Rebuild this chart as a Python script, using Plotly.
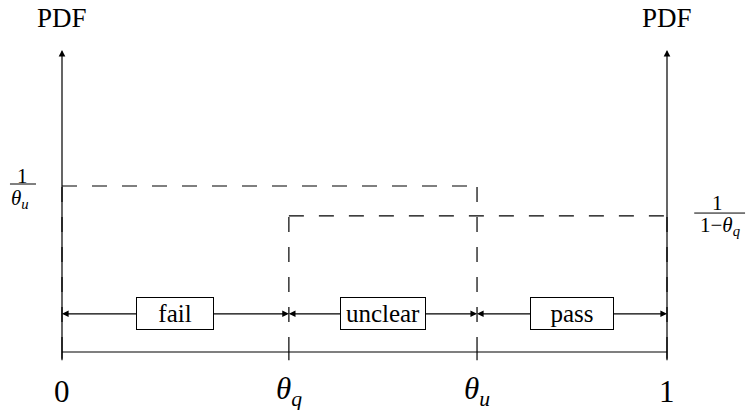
import plotly.graph_objects as go

# region boundaries on the unit interval
theta_q = 0.375
theta_u = 0.686
boundaries = [0.0, theta_q, theta_u, 1.0]
regions = ["fail", "unclear", "pass"]
box_widths = [72, 80, 78]

# schematic PDF heights (not to scale)
level_u = 1.0     # 1/theta_u
level_q = 0.82    # 1/(1-theta_q)
arrow_row = 0.23
axis_top = 1.82
axis_bottom = -0.05

tick_labels = ["0", "<i>θ</i><sub><i>q</i></sub>", "<i>θ</i><sub><i>u</i></sub>", "1"]

FONT = "Liberation Serif, DejaVu Serif, serif"
W, H = 748, 410
PX_X = 605.0   # pixels per x unit
PX_Y = 166.0   # pixels per y unit
X0, Y0 = 62, 352  # pixel position of (0, 0)

fig = go.Figure()

line = dict(color="black", width=1.2)
dashed = dict(color="black", width=1.2, dash="15px,15px")

# baseline
fig.add_trace(go.Scatter(x=[boundaries[0], boundaries[-1]], y=[0, 0], mode="lines", line=line))

# tick marks below baseline
for b in boundaries:
    fig.add_trace(go.Scatter(x=[b, b], y=[0, axis_bottom], mode="lines", line=line))

# uniform pdf on [0, theta_u]
fig.add_trace(go.Scatter(x=[0, 0], y=[0, level_u], mode="lines", line=dashed))
fig.add_trace(go.Scatter(x=[0, theta_u], y=[level_u, level_u], mode="lines", line=dashed))
fig.add_trace(go.Scatter(x=[theta_u, theta_u], y=[0, level_u], mode="lines", line=dashed))

# uniform pdf on [theta_q, 1]
fig.add_trace(go.Scatter(x=[theta_q, theta_q], y=[0, level_q], mode="lines", line=dashed))
fig.add_trace(go.Scatter(x=[theta_q, 1], y=[level_q, level_q], mode="lines", line=dashed))
fig.add_trace(go.Scatter(x=[1, 1], y=[0, level_q], mode="lines", line=dashed))

arrow_kw = dict(xref="x", yref="y", axref="x", ayref="y", text="", showarrow=True,
                arrowhead=2, arrowsize=1.1, arrowwidth=1.2, arrowcolor="black")

# the two PDF axes with arrows at the top
for xv in [0, 1]:
    fig.add_annotation(x=xv, y=axis_top, ax=xv, ay=axis_bottom, **arrow_kw)
    fig.add_annotation(x=xv, y=axis_top + 0.19, text="PDF", showarrow=False,
                       font=dict(family=FONT, size=27, color="black"))

# double arrows with boxed labels
for i, name in enumerate(regions):
    a, b = boundaries[i], boundaries[i + 1]
    mid = (a + b) / 2
    fig.add_annotation(x=a, y=arrow_row, ax=mid, ay=arrow_row, **arrow_kw)
    fig.add_annotation(x=b, y=arrow_row, ax=mid, ay=arrow_row, **arrow_kw)
    fig.add_annotation(x=mid, y=arrow_row, text=name, showarrow=False, width=box_widths[i], height=27,
                       bgcolor="white", bordercolor="black", borderwidth=1, borderpad=2,
                       font=dict(family=FONT, size=25, color="black"))

# x tick labels
for b, lab in zip(boundaries, tick_labels):
    fig.add_annotation(x=b, y=-0.235, text=lab, showarrow=False,
                       font=dict(family=FONT, size=31, color="black"))

# level labels as fractions
frac_font = dict(family=FONT, size=21, color="black")
fig.add_annotation(x=-0.066, y=level_u + 0.06, text="1", showarrow=False, font=frac_font)
fig.add_annotation(x=-0.07, y=level_u - 0.078, text="<i>θ</i><sub><i>u</i></sub>", showarrow=False, font=frac_font)
fig.add_shape(type="line", x0=-0.086, x1=-0.043, y0=level_u + 0.012, y1=level_u + 0.012,
              line=dict(color="black", width=1))

fig.add_annotation(x=1.083, y=level_q + 0.075, text="1", showarrow=False, font=frac_font)
fig.add_annotation(x=1.087, y=level_q - 0.058, text="1−<i>θ</i><sub><i>q</i></sub>", showarrow=False, font=frac_font)
fig.add_shape(type="line", x0=1.045, x1=1.129, y0=level_q + 0.017, y1=level_q + 0.017,
              line=dict(color="black", width=1))

fig.update_layout(
    width=W, height=H,
    margin=dict(l=0, r=0, t=0, b=0),
    paper_bgcolor="white", plot_bgcolor="white",
    showlegend=False,
    xaxis=dict(range=[-X0 / PX_X, (W - X0) / PX_X], visible=False, fixedrange=True),
    yaxis=dict(range=[-(H - Y0) / PX_Y, Y0 / PX_Y], visible=False, fixedrange=True),
)

# drop the default page margin so the figure fills the window
fig.write_html("out.html", config={"displayModeBar": False},
               post_script="document.body.style.margin='0';")
